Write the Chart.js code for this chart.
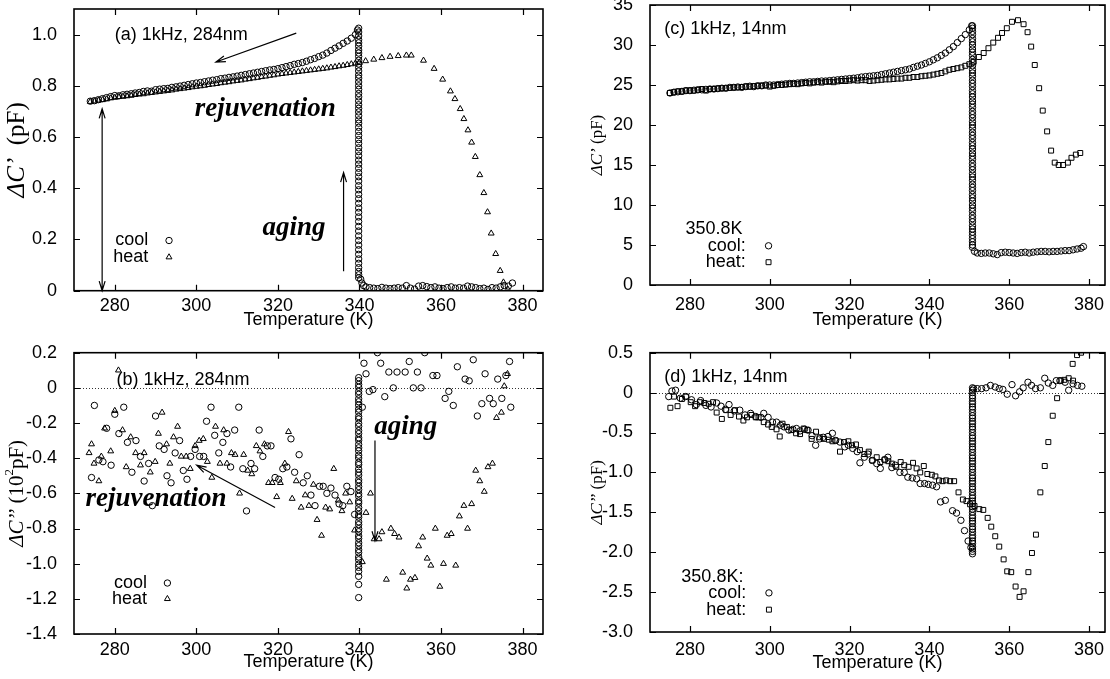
<!DOCTYPE html>
<html>
<head>
<meta charset="utf-8">
<script src="https://cdn.jsdelivr.net/npm/chart.js@4.4.1/dist/chart.umd.min.js"></script>
<style>
body{margin:0;background:#fff;}
#wrap{position:relative;width:1110px;height:679px;overflow:hidden;}
canvas{position:absolute;}
</style>
</head>
<body>
<div id="wrap">
<canvas id="pa" width="555" height="339" style="left:0;top:0"></canvas>
<canvas id="pc" width="555" height="349" style="left:555px;top:-10px"></canvas>
<canvas id="pb" width="555" height="340" style="left:0;top:339px"></canvas>
<canvas id="pd" width="555" height="340" style="left:555px;top:339px"></canvas>
</div>
<script>
// ---- (a) 284nm, C' (pF) ----
var aCoolT=[274,275,276,277,278,279,280,281,282,283,284,285,286,287,288,289,290,291,292,293,294,295,296,297,298,299,300,301,302,303,304,305,306,307,308,309,310,311,312,313,314,315,316,317,318,319,320,321,322,323,324,325,326,327,328,329,330,331,332,333,334,335,336,337,338,339,339.5,
  340.3,340.6,341,341.6,342.5,343.5,344.5,345.5,346.5,347.5,348.5,349.5,350.5,351.5,352.5,353.5,354.5,355.5,356.5,357.5,358.5,359.5,360.5,361.5,362.5,363.5,364.5,365.5,366.5,367.5,368.5,369.5,370.5,371.5,372.5,373.5,374.5,375.5,376.5,377.5];
var aCoolC=[.740,.742,.746,.750,.754,.758,.762,.761,.765,.767,.769,.772,.774,.778,.780,.779,.785,.787,.789,.790,.794,.796,.799,.802,.805,.808,.811,.813,.816,.819,.822,.824,.828,.830,.833,.835,.838,.841,.844,.847,.850,.853,.856,.859,.862,.864,.867,.871,.875,.879,.884,.887,.891,.896,.902,.907,.914,.920,.928,.938,.947,.956,.966,.975,.986,1.000,1.018,
  .045,.030,.020,.015,.012,.010,.008,.013,.010,.008,.010,.012,.010,.020,.010,.006,.018,.020,.016,.012,.015,.010,.008,.012,.015,.010,.012,.010,.018,.015,.012,.008,.010,.005,.012,.010,.015,.020,.018,.030];
var aAgeT=339.8;
var aAgeC=[1.025,1.01,.995,.98,.968,.955,.94,.928,.915,.90,.885,.872,.858,.842,.83,.815,.80,.786,.77,.757,.741,.726,.712,.698,.683,.667,.654,.638,.622,.606,.59,.575,.558,.543,.527,.51,.494,.478,.461,.445,.428,.41,.394,.376,.359,.341,.323,.306,.288,.27,.251,.233,.214,.196,.178,.16,.142,.124,.107,.09,.075,.062,.05];
var aHeatT=[274,275,276,277,278,279,280,281,282,283,284,285,286,287,288,289,290,291,292,293,294,295,296,297,298,299,300,301,302,303,304,305,306,307,308,309,310,311,312,313,314,315,316,317,318,319,320,321,322,323,324,325,326,327,328,329,330,331,332,333,334,335,336,337,338,339,340,
  341.5,343.5,345.5,347.5,349.5,351.5,352.7,355.7,358.3,360.4,362.3,363.4,364.7,365.6,366.6,367.5,368.4,369.5,370.5,371.4,372.3,373.4,374.5,375.3,376.4];
var aHeatC=[.738,.740,.743,.745,.748,.752,.754,.757,.758,.760,.762,.765,.767,.768,.771,.773,.775,.777,.779,.781,.783,.786,.788,.790,.792,.795,.797,.799,.801,.804,.806,.808,.811,.813,.815,.818,.820,.822,.825,.827,.830,.832,.835,.837,.840,.842,.845,.847,.849,.851,.853,.855,.857,.859,.861,.863,.865,.867,.869,.872,.874,.877,.879,.882,.885,.888,.891,
  .897,.903,.909,.914,.917,.919,.919,.899,.867,.825,.779,.749,.710,.671,.627,.579,.523,.452,.382,.307,.224,.144,.078,.033,.005];

// ---- (b) 284nm, C'' (10^2 pF) ----
var bCoolT=[274.3,275.0,276.1,277.1,278.0,279.1,280.0,281.0,282.2,283.1,284.2,285.2,286.3,287.2,288.3,289.2,290.0,290.9,292.1,292.8,293.8,294.8,295.9,296.8,297.7,298.6,299.7,300.8,301.8,302.5,303.6,304.5,305.5,306.5,307.5,308.4,309.4,310.4,311.4,312.3,313.4,314.3,315.4,316.3,317.4,318.3,319.3,320.2,321.2,322.2,323.2,324.1,325.2,326.2,327.2,328.1,329.1,330.2,331.1,332.0,333.0,334.0,335.0,335.9,336.9,337.9,338.8,
  340.7,341.1,341.6,342.4,343.3,344.4,345.2,346.2,347.2,348.3,349.2,351.2,352.2,353.2,354.2,355.1,356.0,358.0,359.0,361.0,361.9,363.0,364.0,365.9,366.9,367.9,368.9,370.0,370.8,371.9,372.8,373.9,374.9,375.9,376.8,377.1];
var bCoolC=[-0.51,-0.10,-0.41,-0.42,-0.23,-0.44,-0.15,-0.26,-0.11,-0.31,-0.48,-0.30,-0.39,-0.53,-0.43,-0.67,-0.16,-0.33,-0.35,-0.50,-0.54,-0.37,-0.30,-0.47,-0.52,-0.39,-0.35,-0.39,-0.39,-0.19,-0.11,-0.27,-0.37,-0.31,-0.26,-0.45,-0.24,-0.11,-0.46,-0.70,-0.43,-0.46,-0.24,-0.39,-0.33,-0.33,-0.51,-0.52,-0.46,-0.45,-0.29,-0.48,-0.38,-0.54,-0.50,-0.61,-0.67,-0.56,-0.56,-0.60,-0.57,-0.61,-0.66,-0.67,-0.56,-0.59,-0.72,
  -0.11,0.14,0.08,-0.02,-0.01,0.20,0.14,-0.05,0.09,0.00,0.09,0.09,0.15,0.00,0.09,0.00,0.20,0.07,0.07,-0.06,-0.02,-0.10,0.12,0.05,0.04,0.16,-0.16,-0.09,0.08,-0.06,-0.09,0.05,-0.06,0.07,0.15,-0.11];
var bAgeT=339.8;
var bAgeC=[0.058,0.041,0.019,0.003,-0.021,-0.037,-0.062,-0.079,-0.098,-0.121,-0.138,-0.163,-0.177,-0.202,-0.219,-0.243,-0.26,-0.284,-0.298,-0.322,-0.341,-0.358,-0.383,-0.399,-0.424,-0.437,-0.462,-0.481,-0.497,-0.523,-0.538,-0.561,-0.579,-0.602,-0.617,-0.643,-0.656,-0.681,-0.699,-0.722,-0.736,-0.762,-0.778,-0.801,-0.818,-0.842,-0.857,-0.881,-0.898,-0.921,-0.937,-0.962,-0.978,-1.003,-1.021,-1.044,-1.072,-1.118,-1.193];
var bHeatT=[273.7,274.3,274.9,276.1,276.7,277.5,279.0,280.0,280.9,281.9,282.8,283.9,285.1,286.3,287.2,288.7,289.9,290.7,291.6,292.7,293.5,294.4,295.4,296.3,297.5,298.5,299.7,300.7,301.7,302.7,303.8,304.7,305.8,306.7,307.5,308.6,309.5,310.6,311.6,312.6,313.6,314.7,315.6,316.7,317.7,318.6,319.7,320.6,321.7,322.6,323.5,324.5,325.7,326.7,327.6,328.7,329.6,330.7,331.7,332.7,333.7,334.8,335.7,336.6,337.6,338.8,
  340.7,341.6,342.7,343.6,344.8,345.5,346.6,347.7,348.6,349.7,350.6,351.6,352.5,353.6,354.5,355.5,356.6,357.5,358.6,359.7,360.6,361.5,362.5,363.6,364.5,365.6,366.5,367.5,368.5,369.5,370.6,371.5,372.6,373.6,374.8,375.5,376.3];
var bHeatC=[-0.37,-0.32,-0.43,-0.53,-0.39,-0.23,-0.36,-0.13,0.10,-0.24,-0.45,-0.28,-0.37,-0.44,-0.37,-0.48,-0.42,-0.26,-0.14,-0.32,-0.43,-0.28,-0.22,-0.39,-0.39,-0.46,-0.33,-0.30,-0.29,-0.42,-0.51,-0.22,-0.43,-0.24,-0.43,-0.37,-0.38,-0.60,-0.38,-0.47,-0.49,-0.33,-0.36,-0.32,-0.54,-0.54,-0.62,-0.54,-0.43,-0.25,-0.63,-0.53,-0.68,-0.61,-0.67,-0.55,-0.75,-0.84,-0.68,-0.69,-0.46,-0.64,-0.70,-0.60,-0.65,-0.81,
  -0.99,-0.71,-0.60,-0.86,-0.86,-0.82,-1.09,-0.80,-0.83,-0.85,-1.05,-1.14,-1.09,-1.08,-0.90,-0.85,-0.97,-1.01,-0.80,-1.13,-1.00,-0.84,-0.83,-1.01,-0.73,-0.67,-0.80,-0.66,-0.47,-0.53,-0.59,-0.45,-0.43,-0.17,-0.14,0.01,0.08];

// ---- (c) 14nm, C' (pF) ----
var cCoolT=[275,276,277,278,279,280,281,282,283,284,285,286,287,288,289,290,291,292,293,294,295,296,297,298,299,300,301,302,303,304,305,306,307,308,309,310,311,312,313,314,315,316,317,318,319,320,321,322,323,324,325,326,327,328,329,330,331,332,333,334,335,336,337,338,339,340,341,342,343,344,345,346,347,348,349,350,350.6,
  351.3,352,353,354,355,356,357,358,359,360,361,362,363,364,365,366,367,368,369,370,371,372,373,374,375,376,377,378,378.6];
var cCoolC=[24.0,24.1,24.15,24.2,24.3,24.3,24.35,24.4,24.4,24.45,24.5,24.5,24.55,24.6,24.6,24.7,24.7,24.75,24.7,24.8,24.85,24.8,24.9,24.9,25.0,25.0,25.0,25.05,25.1,25.15,25.2,25.2,25.25,25.3,25.35,25.4,25.4,25.45,25.5,25.5,25.55,25.6,25.65,25.7,25.75,25.8,25.85,25.9,26.0,26.05,26.1,26.15,26.2,26.3,26.4,26.5,26.6,26.7,26.8,26.9,27.0,27.2,27.35,27.5,27.7,27.9,28.15,28.4,28.7,29.0,29.4,29.8,30.3,30.8,31.3,31.9,32.4,
  4.2,4.0,3.95,4.0,4.0,3.9,3.8,4.05,4.1,4.05,4.0,3.95,4.05,4.1,4.0,4.1,4.15,4.2,4.2,4.15,4.2,4.2,4.25,4.3,4.3,4.4,4.5,4.6,4.8];
var cAgeT=350.8;
var cAgeC=[32.4,32.1,31.7,31.3,30.8,30.4,30.0,29.5,29.1,28.7,28.2,27.8,27.4,26.9,26.5,26.1,25.6,25.2,24.8,24.3,23.9,23.5,23.0,22.6,22.2,21.7,21.3,20.9,20.4,20.0,19.6,19.1,18.7,18.3,17.8,17.4,17.0,16.5,16.1,15.7,15.2,14.8,14.4,13.9,13.5,13.1,12.6,12.2,11.8,11.3,10.9,10.5,10.0,9.6,9.2,8.7,8.3,7.9,7.4,7.0,6.6,6.2,5.8,5.4,5.0,4.7];
var cHeatT=[275,276,277,278,279,280,281,282,283,284,285,286,287,288,289,290,291,292,293,294,295,296,297,298,299,300,301,302,303,304,305,306,307,308,309,310,311,312,313,314,315,316,317,318,319,320,321,322,323,324,325,326,327,328,329,330,331,332,333,334,335,336,337,338,339,340,341,342,343,344,345,346,347,348,349,350,
  351.1,352.4,353.6,354.8,356.0,357.2,358.2,359.4,360.7,362.2,363.6,364.6,365.5,366.4,367.5,368.4,369.5,370.5,371.4,372.4,373.5,374.7,375.6,376.7,377.8];
var cHeatC=[24.0,24.1,24.2,24.2,24.3,24.3,24.3,24.4,24.5,24.3,24.5,24.5,24.55,24.6,24.6,24.65,24.7,24.7,24.75,24.8,24.8,24.85,24.9,24.9,24.95,24.8,24.9,25.0,25.0,25.05,25.1,25.15,25.1,25.2,25.25,25.2,25.3,25.35,25.3,25.4,25.4,25.35,25.45,25.5,25.5,25.55,25.6,25.55,25.6,25.6,25.5,25.55,25.6,25.65,25.7,25.7,25.75,25.8,25.8,25.9,25.9,26.0,26.0,26.1,26.15,26.2,26.3,26.4,26.5,26.7,26.9,27.0,27.1,27.2,27.4,27.6,
  27.9,28.5,29.0,29.6,30.3,30.9,31.5,32.1,32.9,33.1,32.6,31.6,29.8,27.5,24.6,21.8,19.2,16.8,15.3,15.0,15.0,15.3,15.9,16.3,16.5];

// ---- (d) 14nm, C'' (pF) ----
var dCoolT=[274.7,275.5,276.4,277.6,278.9,280.4,281.6,282.7,284.0,285.3,286.7,287.8,288.9,289.8,291.1,292.5,293.8,295.2,296.5,297.8,298.5,299.6,300.7,301.7,302.7,303.6,304.8,305.8,306.7,307.6,308.7,309.6,310.6,311.5,312.5,313.4,314.6,315.7,316.5,317.6,318.8,319.7,320.8,321.9,322.6,323.7,324.6,325.7,326.8,327.7,328.8,329.6,330.6,331.5,332.6,333.7,334.6,335.7,336.8,337.7,338.8,339.7,340.8,341.8,342.8,344.0,345.8,346.8,347.9,348.8,349.7,350.4,
  351.1,352.0,353.1,354.2,355.3,356.5,357.5,358.4,359.5,360.7,361.6,362.6,363.5,364.7,365.6,366.6,367.8,368.9,369.8,370.9,371.8,372.7,374.0,374.9,376.0,377.1,378.2];
var dCoolC=[-0.05,0.02,0.03,-0.07,-0.05,-0.09,-0.15,-0.10,-0.16,-0.18,-0.13,-0.17,-0.21,-0.15,-0.23,-0.22,-0.28,-0.26,-0.30,-0.31,-0.26,-0.31,-0.37,-0.37,-0.41,-0.43,-0.47,-0.46,-0.45,-0.48,-0.46,-0.47,-0.54,-0.66,-0.58,-0.56,-0.55,-0.51,-0.60,-0.62,-0.68,-0.66,-0.70,-0.74,-0.88,-0.81,-0.77,-0.85,-0.89,-0.95,-0.84,-0.81,-0.94,-0.91,-1.00,-1.00,-1.06,-1.07,-1.08,-1.14,-1.14,-1.15,-1.16,-1.18,-1.37,-1.35,-1.48,-1.51,-1.60,-1.73,-1.86,-1.94,
  0.05,0.05,0.05,0.06,0.09,0.07,0.05,0.04,-0.02,0.10,-0.04,0.01,0.06,0.13,0.09,0.05,0.06,0.18,0.12,0.09,0.15,0.15,0.13,0.03,0.11,0.09,0.08];
var dAgeT=350.8;
var dAgeC=[0.06,0.03,0.0,-0.04,-0.07,-0.11,-0.14,-0.18,-0.21,-0.25,-0.29,-0.32,-0.36,-0.39,-0.43,-0.46,-0.50,-0.54,-0.57,-0.61,-0.64,-0.68,-0.71,-0.75,-0.79,-0.82,-0.86,-0.89,-0.93,-0.96,-1.00,-1.04,-1.07,-1.11,-1.14,-1.18,-1.21,-1.25,-1.29,-1.32,-1.36,-1.39,-1.43,-1.46,-1.50,-1.54,-1.57,-1.61,-1.64,-1.68,-1.71,-1.75,-1.79,-1.82,-1.86,-1.89,-1.93,-1.96,-1.99,-2.02];
var dHeatT=[275.1,276.0,276.9,278.0,279.1,280.2,281.3,282.5,283.6,284.7,285.8,286.7,288.0,289.1,290.2,291.3,292.3,293.4,294.3,295.4,296.5,297.2,298.5,299.6,300.5,301.7,302.5,303.2,304.3,305.4,306.6,307.6,308.5,309.4,310.5,311.6,312.5,313.6,314.8,315.7,316.5,317.6,318.6,319.7,320.6,321.6,322.6,323.7,324.8,325.7,326.8,327.7,328.8,329.7,330.6,331.7,332.8,333.7,334.8,335.9,336.8,337.7,338.6,339.5,340.6,341.5,342.4,343.3,344.2,345.2,346.2,
  347.3,348.4,349.3,350.2,351.3,352.5,353.5,354.6,355.5,356.5,357.5,358.6,359.5,360.5,361.6,362.6,363.6,364.8,365.7,366.7,367.8,368.9,369.8,370.9,372.0,372.9,373.8,374.9,376.0,375.9,377.0,378.0];
var dHeatC=[-0.19,-0.05,-0.17,-0.08,-0.05,-0.12,-0.17,-0.12,-0.13,-0.14,-0.12,-0.25,-0.33,-0.22,-0.28,-0.22,-0.30,-0.35,-0.31,-0.28,-0.31,-0.31,-0.37,-0.40,-0.43,-0.46,-0.55,-0.39,-0.43,-0.47,-0.51,-0.52,-0.45,-0.47,-0.58,-0.49,-0.56,-0.58,-0.59,-0.61,-0.60,-0.74,-0.62,-0.61,-0.66,-0.65,-0.72,-0.77,-0.74,-0.85,-0.81,-0.87,-0.84,-0.86,-0.89,-0.93,-0.87,-0.91,-0.93,-0.88,-0.95,-1.00,-0.92,-1.02,-1.03,-1.05,-1.10,-1.11,-1.10,-1.11,-1.11,
  -1.25,-1.34,-1.36,-1.40,-1.42,-1.46,-1.47,-1.57,-1.68,-1.80,-1.93,-2.09,-2.24,-2.25,-2.43,-2.56,-2.49,-2.25,-2.01,-1.78,-1.25,-0.92,-0.62,-0.29,-0.07,0.15,0.16,0.18,0.15,0.36,0.47,0.50];

var SANS='"Liberation Sans", Arial, Helvetica, sans-serif';
var SERIF='"Liberation Serif", "Times New Roman", serif';

function pairs(t,c){ return t.map(function(v,i){ return {x:v,y:c[i]}; }); }
function column(t,c){ return c.map(function(v){ return {x:t,y:v}; }); }

function series(data,style,r){
  return {data:data,pointStyle:style,pointRadius:r,borderWidth:1,borderColor:'#000',
    backgroundColor:'rgba(0,0,0,0)',showLine:false};
}

function keepSteps(step){
  return function(scale){
    scale.ticks=scale.ticks.filter(function(t){
      var k=t.value/step; return Math.abs(k-Math.round(k))<1e-6;
    });
  };
}

function fmt(dec){
  return function(v){ return Math.abs(v)<1e-9 ? '0' : v.toFixed(dec); };
}

function arrowHead(ctx,x0,y0,x1,y1){
  var ang=Math.atan2(y1-y0,x1-x0), L=10, w=0.3;
  ctx.moveTo(x1-L*Math.cos(ang-w),y1-L*Math.sin(ang-w));
  ctx.lineTo(x1,y1);
  ctx.lineTo(x1-L*Math.cos(ang+w),y1-L*Math.sin(ang+w));
}

// frame, inward ticks, titles, labels, arrows and key, gnuplot style
var gnu={
  id:'gnu',
  beforeDatasetsDraw:function(ch,args,o){
    if(!o.zero) return;
    var ctx=ch.ctx,a=ch.chartArea,y=Math.round(ch.scales.y.getPixelForValue(0))+0.5;
    ctx.save();
    ctx.strokeStyle='#333';ctx.lineWidth=1;ctx.setLineDash([1,2]);
    ctx.beginPath();ctx.moveTo(a.left,y);ctx.lineTo(a.right,y);ctx.stroke();
    ctx.restore();
  },
  afterDraw:function(ch,args,o){
    var ctx=ch.ctx,a=ch.chartArea,sx=ch.scales.x,sy=ch.scales.y;
    function X(v){ return sx.getPixelForValue(v); }
    function Y(v){ return sy.getPixelForValue(v); }
    ctx.save();
    ctx.strokeStyle='#000';ctx.fillStyle='#000';
    ctx.lineWidth=1.6;
    ctx.strokeRect(a.left,a.top,a.right-a.left,a.bottom-a.top);
    ctx.lineWidth=1.2;
    ctx.beginPath();
    sx.ticks.forEach(function(t){
      var p=Math.round(X(t.value))+0.5;
      ctx.moveTo(p,a.bottom);ctx.lineTo(p,a.bottom-6);
      ctx.moveTo(p,a.top);ctx.lineTo(p,a.top+6);
    });
    sy.ticks.forEach(function(t){
      var p=Math.round(Y(t.value))+0.5;
      ctx.moveTo(a.left,p);ctx.lineTo(a.left+6,p);
      ctx.moveTo(a.right,p);ctx.lineTo(a.right-6,p);
    });
    ctx.stroke();

    // x title
    ctx.font='18px '+SANS;ctx.textAlign='center';ctx.textBaseline='middle';
    ctx.fillText('Temperature (K)',(a.left+a.right)/2,a.bottom+o.xGap);

    // y title, mixed italic / roman
    ctx.save();
    ctx.translate(o.yX,(a.top+a.bottom)/2);
    ctx.rotate(-Math.PI/2);
    ctx.textAlign='left';
    var total=0,sz=o.ySize;
    function fontOf(p){
      var s=p[2]==='sup'?Math.round(sz*0.6):sz;
      return (p[1]?'italic ':'')+s+'px '+SERIF;
    }
    o.yTitle.forEach(function(p){ ctx.font=fontOf(p); total+=ctx.measureText(p[0]).width; });
    var cx=-total/2;
    o.yTitle.forEach(function(p){
      ctx.font=fontOf(p);
      ctx.fillText(p[0],cx,p[2]==='sup'?-sz*0.35:0);
      cx+=ctx.measureText(p[0]).width;
    });
    ctx.restore();

    // notes
    (o.notes||[]).forEach(function(n){
      ctx.font=n.f;ctx.textAlign=n.al||'left';ctx.textBaseline='middle';
      ctx.fillText(n.t,X(n.x),Y(n.y));
    });

    // arrows
    ctx.lineWidth=1.2;
    (o.arrows||[]).forEach(function(r){
      var x0=X(r.x0),y0=Y(r.y0),x1=X(r.x1),y1=Y(r.y1);
      ctx.beginPath();
      ctx.moveTo(x0,y0);ctx.lineTo(x1,y1);
      arrowHead(ctx,x0,y0,x1,y1);
      if(r.both) arrowHead(ctx,x1,y1,x0,y0);
      ctx.stroke();
    });

    // key
    (o.keys||[]).forEach(function(k){
      ctx.font='18px '+SANS;ctx.textAlign='right';ctx.textBaseline='middle';
      ctx.fillStyle='#000';
      ctx.fillText(k.t,X(k.x),Y(k.y));
      if(k.s){
        ctx.fillStyle='rgba(0,0,0,0)';ctx.lineWidth=1;
        Chart.helpers.drawPoint(ctx,{pointStyle:k.s,radius:k.r,rotation:0,borderWidth:1},X(k.mx),Y(k.y));
        ctx.fillStyle='#000';
      }
    });
    ctx.restore();
  }
};

function panel(id,sets,sc,opts){
  return new Chart(document.getElementById(id),{
    type:'scatter',
    data:{datasets:sets},
    plugins:[gnu],
    options:{
      responsive:false,animation:false,events:[],
      layout:{padding:{top:sc.top,right:sc.right,left:0,bottom:0}},
      plugins:{legend:{display:false},tooltip:{enabled:false},gnu:opts},
      scales:{
        x:{type:'linear',min:sc.xmin,max:sc.xmax,
          afterBuildTicks:keepSteps(20),
          afterFit:function(s){ s.height=sc.xh; s.paddingLeft=0; s.paddingRight=0; },
          ticks:{stepSize:20,includeBounds:false,color:'#000',font:{family:SANS,size:18},padding:sc.xpad,maxRotation:0,autoSkip:false},
          grid:{display:false},border:{display:false}},
        y:{type:'linear',min:sc.ymin,max:sc.ymax,
          afterBuildTicks:keepSteps(sc.step),
          afterFit:function(s){ s.width=sc.left; s.paddingTop=0; s.paddingBottom=0; },
          ticks:{stepSize:sc.step,includeBounds:false,color:'#000',font:{family:SANS,size:18},padding:9,callback:fmt(sc.dec),autoSkip:false},
          grid:{display:false},border:{display:false}}
      }
    }
  });
}

panel('pa',[
  series(pairs(aCoolT,aCoolC),'circle',3.2),
  series(column(aAgeT,aAgeC),'circle',3.2),
  series(pairs(aHeatT,aHeatC),'triangle',3.4)
],{xmin:270,xmax:385,ymin:0,ymax:1.1,step:0.2,dec:1,left:74,top:9,right:12,xh:48.3,xpad:-3},
{
  yTitle:[['\u0394C\u2019',1],['  (pF)',0]],ySize:25,yX:17,xGap:29.5,
  notes:[
    {t:'(a) 1kHz, 284nm',x:280,y:1.0,f:'18px '+SANS},
    {t:'rejuvenation',x:299.6,y:0.71,f:'bold italic 27px '+SERIF},
    {t:'aging',x:316.2,y:0.246,f:'bold italic 27px '+SERIF}
  ],
  arrows:[
    {x0:324.5,y0:1.006,x1:304.8,y1:0.893},
    {x0:276.9,y0:0.71,x1:276.9,y1:0.0,both:true},
    {x0:336.1,y0:0.076,x1:336.1,y1:0.461}
  ],
  keys:[
    {t:'cool',x:288.2,y:0.196,mx:293.3,s:'circle',r:3.2},
    {t:'heat',x:288.2,y:0.131,mx:293.3,s:'triangle',r:3.4}
  ]
});

panel('pb',[
  series(pairs(bCoolT,bCoolC),'circle',3.2),
  series(column(bAgeT,bAgeC),'circle',3.2),
  series(pairs(bHeatT,bHeatC),'triangle',3.4)
],{xmin:270,xmax:385,ymin:-1.4,ymax:0.2,step:0.2,dec:1,left:74,top:13.7,right:12,xh:45,xpad:-2.5},
{
  yTitle:[['\u0394C\u2019\u2019',1],[' (10',0],['2',0,'sup'],['pF)',0]],ySize:21,yX:17,xGap:28,zero:true,
  notes:[
    {t:'(b) 1kHz, 284nm',x:280.4,y:0.047,f:'18px '+SANS},
    {t:'rejuvenation',x:272.8,y:-0.63,f:'bold italic 27px '+SERIF},
    {t:'aging',x:343.6,y:-0.22,f:'bold italic 27px '+SERIF}
  ],
  arrows:[
    {x0:319.3,y0:-0.68,x1:300.1,y1:-0.44},
    {x0:343.8,y0:-0.30,x1:343.8,y1:-0.87}
  ],
  keys:[
    {t:'cool',x:287.9,y:-1.11,mx:292.9,s:'circle',r:3.2},
    {t:'heat',x:287.9,y:-1.20,mx:292.9,s:'triangle',r:3.4}
  ]
});

panel('pc',[
  series(pairs(cCoolT,cCoolC),'circle',3.2),
  series(column(cAgeT,cAgeC),'circle',3.2),
  series(pairs(cHeatT,cHeatC),'rect',3.5)
],{xmin:270,xmax:384,ymin:0,ymax:35,step:5,dec:0,left:95,top:15,right:5,xh:54,xpad:1.5},
{
  yTitle:[['\u0394C\u2019',1],[' (pF)',0]],ySize:17,yX:43,xGap:35,
  notes:[
    {t:'(c) 1kHz, 14nm',x:273.6,y:32.0,f:'18px '+SANS}
  ],
  keys:[
    {t:'350.8K',x:293.2,y:7.0},
    {t:'cool:',x:294.0,y:4.9,mx:299.7,s:'circle',r:3.2},
    {t:'heat:',x:294.0,y:2.85,mx:299.7,s:'rect',r:3.5}
  ]
});

panel('pd',[
  series(pairs(dCoolT,dCoolC),'circle',3.2),
  series(column(dAgeT,dAgeC),'circle',3.2),
  series(pairs(dHeatT,dHeatC),'rect',3.5)
],{xmin:270,xmax:384,ymin:-3,ymax:0.5,step:0.5,dec:1,left:95,top:13.7,right:5,xh:47,xpad:-0.5},
{
  yTitle:[['\u0394C\u2019\u2019',1],[' (pF)',0]],ySize:17,yX:43,xGap:31,zero:true,
  notes:[
    {t:'(d) 1kHz, 14nm',x:273.6,y:0.20,f:'18px '+SANS}
  ],
  keys:[
    {t:'350.8K:',x:293.4,y:-2.31},
    {t:'cool:',x:294.1,y:-2.51,mx:299.8,s:'circle',r:3.2},
    {t:'heat:',x:294.1,y:-2.72,mx:299.8,s:'rect',r:3.5}
  ]
});
</script>
</body>
</html>
